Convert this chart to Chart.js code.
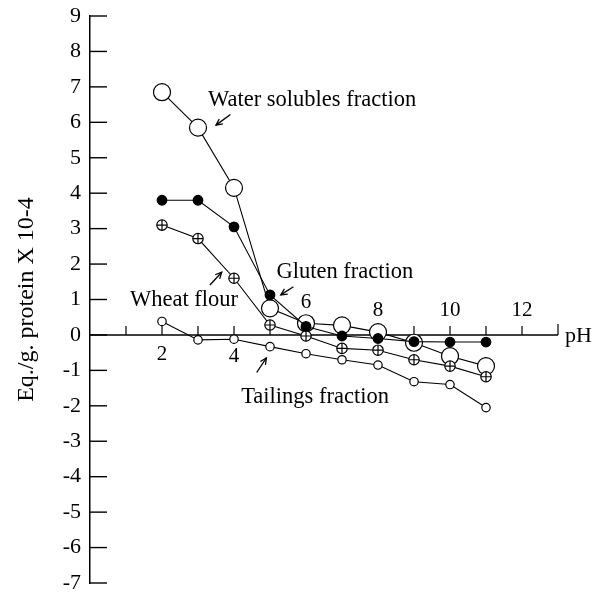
<!DOCTYPE html>
<html>
<head>
<meta charset="utf-8">
<script src="https://cdn.jsdelivr.net/npm/chart.js@4.4.1/dist/chart.umd.min.js"></script>
<style>
  html, body { margin: 0; padding: 0; background: #fff; }
  #wrap { width: 594px; height: 595px; position: relative; }
</style>
</head>
<body>
<div id="wrap"><canvas id="c" width="594" height="595"></canvas></div>
<script>
// ---- data ----
const phValues = [2, 3, 4, 5, 6, 7, 8, 9, 10, 11];
const waterSolubles = [6.85, 5.85, 4.15, 0.75, 0.33, 0.27, 0.08, -0.22, -0.6, -0.88];
const glutenFraction = [3.8, 3.8, 3.05, 1.13, 0.24, -0.03, -0.1, -0.19, -0.2, -0.2];
const wheatFlour = [3.1, 2.72, 1.6, 0.28, -0.03, -0.38, -0.43, -0.7, -0.88, -1.18];
const tailingsFraction = [0.38, -0.14, -0.12, -0.33, -0.53, -0.7, -0.85, -1.32, -1.4, -2.05];

const xTickValues = [2, 4, 6, 8, 10, 12];
const xTickLabels = ['2', '4', '6', '8', '10', '12'];
const yTickValues = [9, 8, 7, 6, 5, 4, 3, 2, 1, 0, -1, -2, -3, -4, -5, -6, -7];
const yTickLabels = ['9', '8', '7', '6', '5', '4', '3', '2', '1', '0', '-1', '-2', '-3', '-4', '-5', '-6', '-7'];
const xMin = 0, xMax = 13, yMin = -7, yMax = 9;
const yTitle = 'Eq./g. protein X 10-4';
const xTitle = 'pH';
const annotationTexts = ['Water solubles fraction', 'Gluten fraction', 'Wheat flour', 'Tailings fraction'];

// ---- styling / placement (not data) ----
const FONT = '"Liberation Serif", "Times New Roman", serif';
const xLabelOffsets = [20, 22, -32, -24, -24, -24];   // px from axis line (+ below, - above)
// annotation anchors in data units: text left/center, arrow tail -> head
const annotations = [
  { text: 0, x: 3.28, y: 6.63, ax1: 3.9, ay1: 6.22, ax2: 3.5, ay2: 5.92 },
  { text: 1, x: 5.18, y: 1.78, ax1: 5.65, ay1: 1.36, ax2: 5.3, ay2: 1.13 },
  { text: 2, x: 1.11, y: 0.99, ax1: 3.33, ay1: 1.41, ax2: 3.66, ay2: 1.77 },
  { text: 3, x: 4.2, y: -1.74, ax1: 4.63, ay1: -1.06, ax2: 4.9, ay2: -0.65 }
];
const WHEAT_INDEX = 1;
const WHEAT_R = 5.2;

function pts(ys) { return phValues.map((x, i) => ({ x: x, y: ys[i] })); }

const axesPlugin = {
  id: 'axesPlugin',
  beforeDatasetsDraw(chart) {
    const ctx = chart.ctx;
    const xs = chart.scales.x, ys = chart.scales.y;
    const y0 = ys.getPixelForValue(0);
    const xl = xs.getPixelForValue(xMin), xr = xs.getPixelForValue(xMax);
    ctx.save();
    ctx.strokeStyle = '#000';
    ctx.lineWidth = 1.4;
    ctx.beginPath(); ctx.moveTo(xl, y0); ctx.lineTo(xr, y0); ctx.stroke();
    ctx.lineWidth = 1.2;
    for (let v = xMin + 1; v <= xMax; v++) {
      const px = xs.getPixelForValue(v);
      const len = v === xMax ? 11 : 9;
      ctx.beginPath(); ctx.moveTo(px, y0); ctx.lineTo(px, y0 - len); ctx.stroke();
    }
    ctx.lineWidth = 1.4;
    const yl0 = xs.getPixelForValue(xMin);
    yTickValues.forEach(v => {
      const py = ys.getPixelForValue(v);
      ctx.beginPath(); ctx.moveTo(yl0, py); ctx.lineTo(yl0 + 17, py); ctx.stroke();
    });
    ctx.fillStyle = '#000';
    ctx.font = '21px ' + FONT;
    ctx.textAlign = 'center';
    ctx.textBaseline = 'middle';
    xTickValues.forEach((v, i) => {
      ctx.fillText(xTickLabels[i], xs.getPixelForValue(v), y0 + xLabelOffsets[i]);
    });
    ctx.textAlign = 'left';
    ctx.font = '22px ' + FONT;
    ctx.fillText(xTitle, xr + 7, y0 + 1);
    ctx.restore();
  },
  afterDatasetDraw(chart, args) {
    if (args.index !== WHEAT_INDEX) return;
    const ctx = chart.ctx;
    ctx.save();
    ctx.strokeStyle = '#000';
    ctx.lineWidth = 1.2;
    args.meta.data.forEach(p => {
      ctx.beginPath();
      ctx.moveTo(p.x - WHEAT_R, p.y); ctx.lineTo(p.x + WHEAT_R, p.y);
      ctx.moveTo(p.x, p.y - WHEAT_R); ctx.lineTo(p.x, p.y + WHEAT_R);
      ctx.stroke();
    });
    ctx.restore();
  },
  afterDatasetsDraw(chart) {
    const ctx = chart.ctx;
    const xs = chart.scales.x, ys = chart.scales.y;
    ctx.save();
    ctx.fillStyle = '#000';
    ctx.strokeStyle = '#000';
    ctx.font = '22.5px ' + FONT;
    ctx.textAlign = 'left';
    ctx.textBaseline = 'middle';
    annotations.forEach(a => {
      ctx.fillText(annotationTexts[a.text], xs.getPixelForValue(a.x), ys.getPixelForValue(a.y));
      const x1 = xs.getPixelForValue(a.ax1), y1 = ys.getPixelForValue(a.ay1);
      const x2 = xs.getPixelForValue(a.ax2), y2 = ys.getPixelForValue(a.ay2);
      ctx.lineWidth = 1.3;
      ctx.beginPath(); ctx.moveTo(x1, y1); ctx.lineTo(x2, y2); ctx.stroke();
      const ang = Math.atan2(y2 - y1, x2 - x1);
      const h = 7;
      ctx.beginPath();
      ctx.moveTo(x2 - h * Math.cos(ang - 0.45), y2 - h * Math.sin(ang - 0.45));
      ctx.lineTo(x2, y2);
      ctx.lineTo(x2 - h * Math.cos(ang + 0.45), y2 - h * Math.sin(ang + 0.45));
      ctx.stroke();
    });
    ctx.restore();
  }
};

const lineCommon = {
  showLine: true,
  borderColor: '#000',
  borderWidth: 1.1,
  pointBorderColor: '#000',
  pointBorderWidth: 1.2,
  tension: 0
};

new Chart(document.getElementById('c'), {
  type: 'scatter',
  data: {
    datasets: [
      Object.assign({}, lineCommon, {
        label: 'Gluten fraction', data: pts(glutenFraction),
        pointRadius: 4.8, pointHoverRadius: 4.8, pointBackgroundColor: '#000'
      }),
      Object.assign({}, lineCommon, {
        label: 'Wheat flour', data: pts(wheatFlour),
        pointRadius: WHEAT_R, pointHoverRadius: WHEAT_R, pointBackgroundColor: '#fff'
      }),
      Object.assign({}, lineCommon, {
        label: 'Water solubles fraction', data: pts(waterSolubles),
        pointRadius: 8.5, pointHoverRadius: 8.5, pointBackgroundColor: '#fff'
      }),
      Object.assign({}, lineCommon, {
        label: 'Tailings fraction', data: pts(tailingsFraction),
        pointRadius: 4.2, pointHoverRadius: 4.2, pointBackgroundColor: '#fff'
      })
    ]
  },
  options: {
    responsive: false,
    animation: false,
    events: [],
    layout: { padding: { left: 0, right: 36, top: 16, bottom: 12 } },
    plugins: { legend: { display: false }, tooltip: { enabled: false } },
    scales: {
      x: {
        type: 'linear', min: xMin, max: xMax, display: false
      },
      y: {
        type: 'linear', min: yMin, max: yMax,
        afterFit(scale) { scale.width = 90; scale.paddingTop = 0; scale.paddingBottom = 0; },
        grid: { display: false, drawTicks: false },
        border: { display: true, color: '#000', width: 1.5 },
        ticks: {
          stepSize: 1, autoSkip: false, padding: 9, color: '#000',
          font: { family: FONT, size: 22, lineHeight: 0.5 },
          callback(v) { const i = yTickValues.indexOf(v); return i >= 0 ? yTickLabels[i] : ''; }
        },
        title: {
          display: true, text: yTitle, color: '#000',
          font: { family: FONT, size: 24 },
          padding: { top: 12, bottom: 0 }
        }
      }
    }
  },
  plugins: [axesPlugin]
});
</script>
</body>
</html>
